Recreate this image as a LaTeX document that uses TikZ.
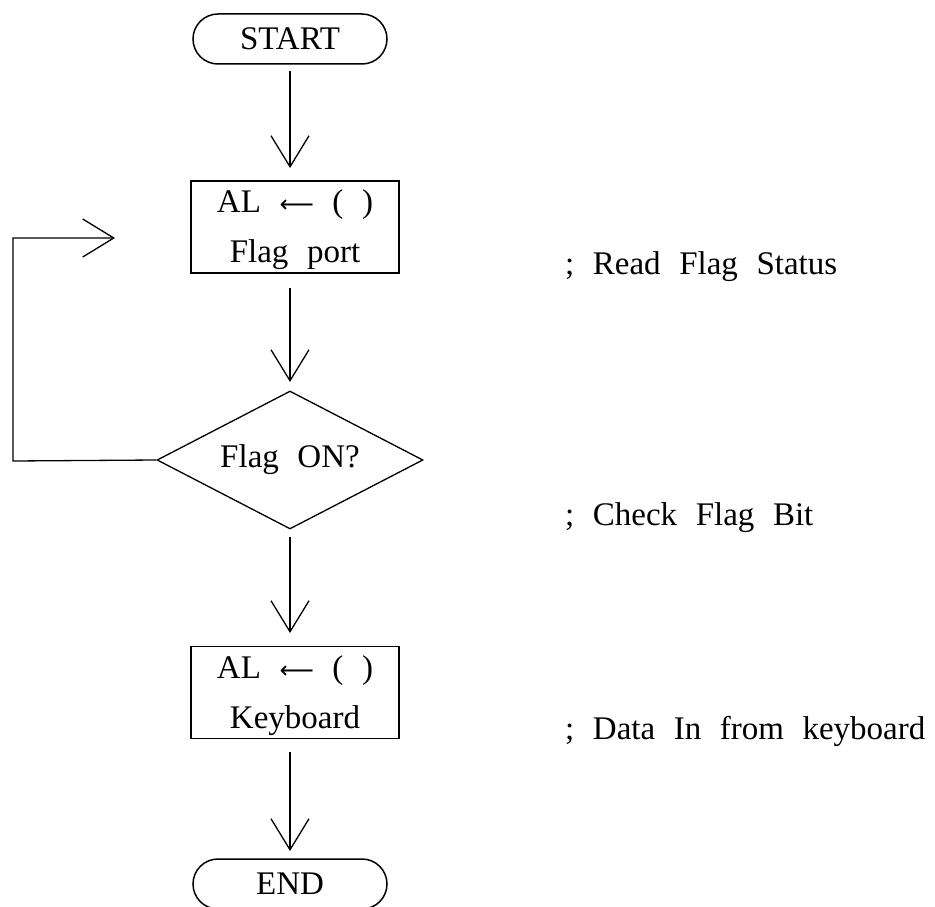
\documentclass[tikz,border=0pt]{standalone}
\usepackage{fontspec}
\setmainfont[WordSpace=2.25]{Liberation Serif}
\newfontfamily\arrfont{DejaVu Sans}
\usetikzlibrary{shapes.geometric,arrows.meta}
\newcommand{\larr}{{\arrfont\fontsize{24}{24}\selectfont ⟵}}
\begin{document}
\begin{tikzpicture}[x=1pt,y=-1pt,
  every node/.style={font=\fontsize{33}{50}\selectfont, inner sep=0pt},
  term/.style={draw, line width=1.5pt, rounded corners=25pt, minimum width=194pt, minimum height=50pt},
  procbox/.style={draw, line width=1.3pt, minimum width=208pt, minimum height=92pt},
  proctext/.style={align=center},
  decision/.style={draw, shape=diamond, line width=1.3pt, minimum width=266pt, minimum height=138pt, aspect=1.93},
  flow/.style={line width=1.3pt, -{Straight Barb[length=31pt,width=38pt,line width=1.3pt]}},
  note/.style={anchor=base west}]
\useasboundingbox (0,0) rectangle (935,907);
\node[term] (start) at (290,39) {START};
\node[procbox] (read) at (295,227) {};
\node[proctext] (readtxt) at (295,230) {AL \larr{} ( )\\Flag port};
\node[decision] (dec) at (290,460) {Flag ON?};
\node[procbox] (kbd) at (295,692.5) {};
\node[proctext] (kbdtxt) at (295,695.5) {AL \larr{} ( )\\Keyboard};
\node[term] (end) at (290,884) {END};
\coordinate (c1) at (290,168);
\draw[flow] ([yshift=-6pt]start.south -| c1) -- (c1);
\coordinate (c2) at (290,382);
\draw[flow] (290,288) -- (c2);
\coordinate (c3) at (290,633);
\draw[flow] (290,537) -- (c3);
\coordinate (c4) at (290,851);
\draw[flow] (290,752) -- (c4);
\coordinate (lp1) at (13,461);
\coordinate (lp2) at (13,238);
\coordinate (lp3) at (115,238);
\draw[flow] (dec.west) -- (lp1) -- (lp2) -- (lp3);
\node[note] (n1) at (565,274) {; Read Flag Status};
\node[note] (n2) at (565,525) {; Check Flag Bit};
\node[note] (n3) at (565,739) {; Data In from keyboard};
\end{tikzpicture}
\end{document}
